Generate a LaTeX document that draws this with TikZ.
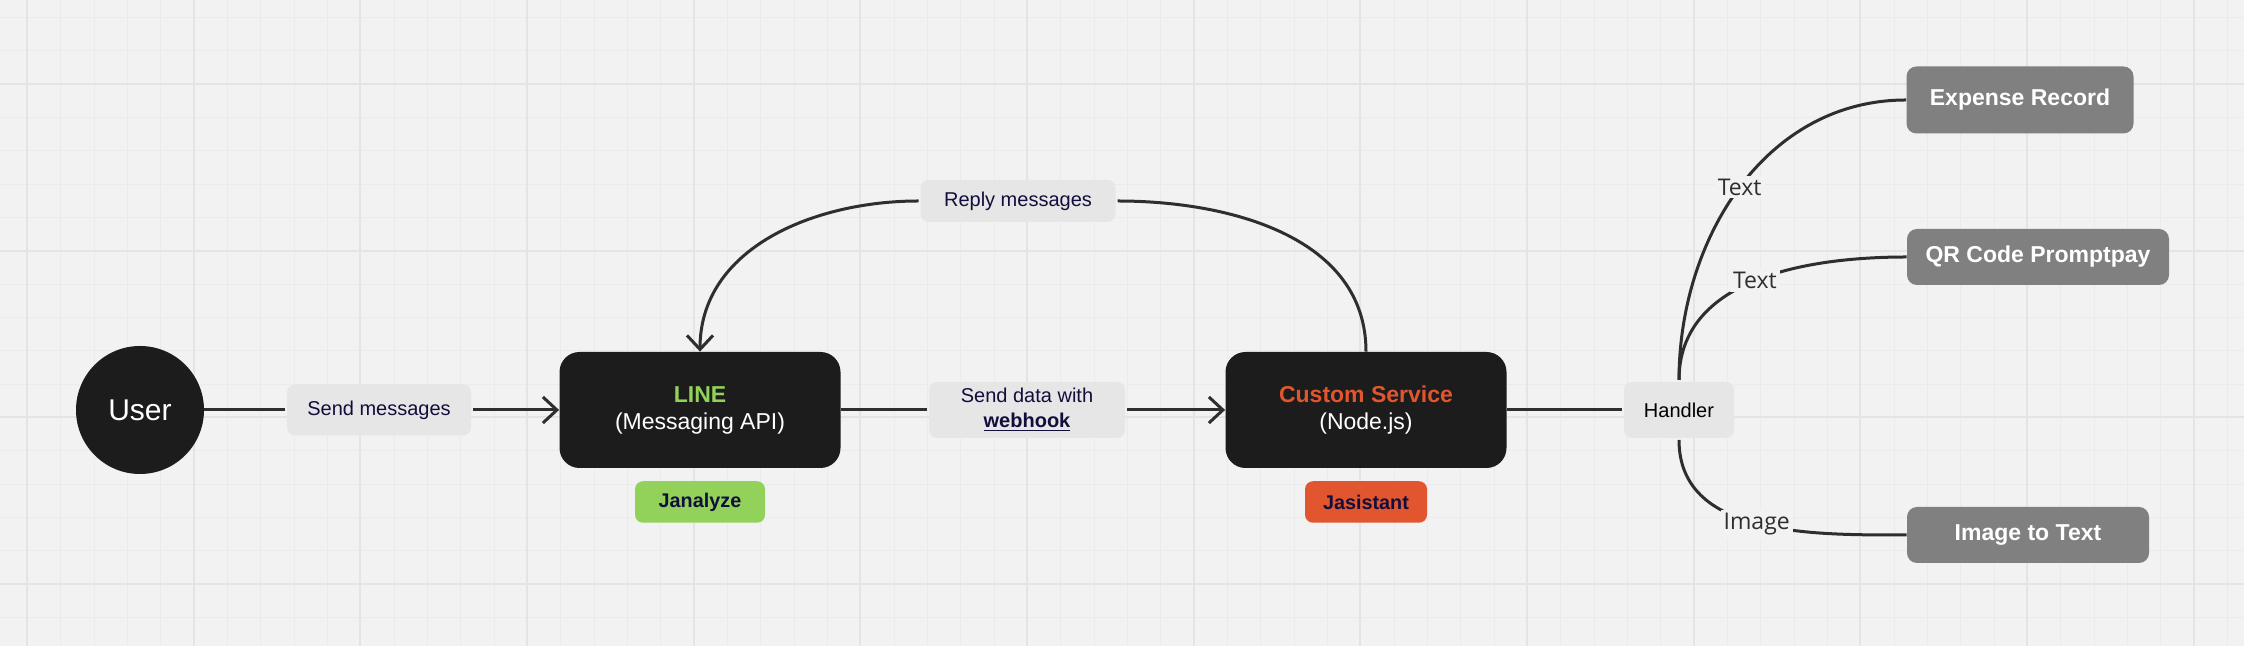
\documentclass[tikz,border=0pt]{standalone}
\usepackage{fontspec}
\setmainfont{Liberation Sans}
\newfontfamily\edgefont{Open Sans}
\usetikzlibrary{arrows.meta}
\definecolor{canvas}{HTML}{F2F2F2}
\definecolor{minorline}{HTML}{EBEBEB}
\definecolor{majorline}{HTML}{E4E4E4}
\definecolor{boxblack}{HTML}{1C1C1C}
\definecolor{tagfill}{HTML}{E6E6E6}
\definecolor{navy}{HTML}{120E3C}
\definecolor{linegreen}{HTML}{92D25A}
\definecolor{svcorange}{HTML}{E2562F}
\definecolor{handgray}{HTML}{808080}
\definecolor{wirecol}{HTML}{2E2E2E}
\begin{document}
\begin{tikzpicture}[x=0.5pt,y=0.5pt,
    wire/.style={draw=wirecol,line width=1.5pt},
    arrow/.style={wire,-{Straight Barb[length=7pt,width=13pt]}},
    tag/.style={fill=tagfill,rounded corners=4pt,inner sep=0pt,outer sep=1pt,text=navy,align=center,font=\fontsize{10}{12.5}\selectfont},
    bigbox/.style={fill=boxblack,rounded corners=10pt,minimum width=140.5pt,minimum height=58pt,text=white,align=center,font=\fontsize{11.5}{13.5}\selectfont},
    badge/.style={rounded corners=4pt,inner sep=0pt,minimum height=20.75pt,text=navy,font=\bfseries\fontsize{9.9}{12}\selectfont},
    target/.style={fill=handgray,rounded corners=5pt,inner sep=0pt,minimum height=28pt,text=white,font=\bfseries\fontsize{11.5}{14}\selectfont},
    edgelabel/.style={fill=canvas,inner sep=1.5pt,text=wirecol,font=\edgefont\fontsize{11.5}{14}\selectfont}]
    \useasboundingbox (0,0) rectangle (2244,646);
    \fill[canvas] (0,0) rectangle (2244,646);
    \foreach \k in {0,...,66}
        \draw[minorline,line width=0.5pt] ({27.5+round(33.3333*\k)},0) -- ++(0,646);
    \foreach \k in {0,...,18}
        \draw[minorline,line width=0.5pt] (0,{28.5+round(33.3333*\k)}) -- ++(2244,0);
    \foreach \k in {0,...,13}
        \draw[majorline,line width=1pt] ({27+round(166.6667*\k)},0) -- ++(0,646);
    \foreach \k in {0,...,3}
        \draw[majorline,line width=1pt] (0,{62+round(166.6667*\k)}) -- ++(2244,0);

    \node[circle,fill=boxblack,minimum size=64pt,inner sep=0pt,text=white,font=\fontsize{15}{18}\selectfont] (user) at (140,236) {User};
    \node[tag,minimum width=92pt,minimum height=25.5pt] (sendmsg) at (379,236) {Send messages};
    \node[bigbox] (line) at (700,236) {\textcolor{linegreen}{\textbf{LINE}}\\(Messaging API)};
    \node[badge,fill=linegreen,minimum width=65pt] (janalyze) at (700,144) {Janalyze};
    \node[tag,minimum width=98pt,minimum height=28pt] (webhook) at (1027,236) {Send data with\\\underline{\textbf{webhook}}};
    \node[bigbox] (service) at (1366,236) {\textcolor{svcorange}{\textbf{Custom Service}}\\(Node.js)};
    \node[badge,fill=svcorange,minimum width=61pt] (jasistant) at (1366,144) {Jasistant};
    \node[tag,minimum width=97.5pt,minimum height=21pt] (reply) at (1018,445) {Reply messages};
    \node[tag,minimum width=55pt,minimum height=28pt,text=black] (handler) at (1679,236) {Handler};
    \node[target,minimum width=113.5pt,minimum height=33.5pt] (expense) at (2020,546) {Expense Record};
    \node[target,minimum width=131pt] (qrcode) at (2038,389) {QR Code Promptpay};
    \node[target,minimum width=121pt] (imgtext) at (2028,111) {Image to Text};

    \draw[wire] (user) -- (sendmsg);
    \draw[arrow] (sendmsg) -- (line);
    \draw[wire] (line) -- (webhook);
    \draw[arrow] (webhook) -- (service);
    \draw[wire] (service) -- (handler);
    \draw[wire] (service.north) to[out=90,in=0] (reply.east);
    \draw[arrow] (reply.west) to[out=180,in=90] (line.north);
    \draw[wire] (handler.north) to[out=90,in=180] node[edgelabel] (textexp) {Text} (expense.west);
    \draw[wire] (handler.north) to[out=90,in=180] node[edgelabel] (textqr) {Text} (qrcode.west);
    \draw[wire] (handler.south) to[out=-90,in=180] node[edgelabel] (imagelbl) {Image} (imgtext.west);
\end{tikzpicture}
\end{document}
